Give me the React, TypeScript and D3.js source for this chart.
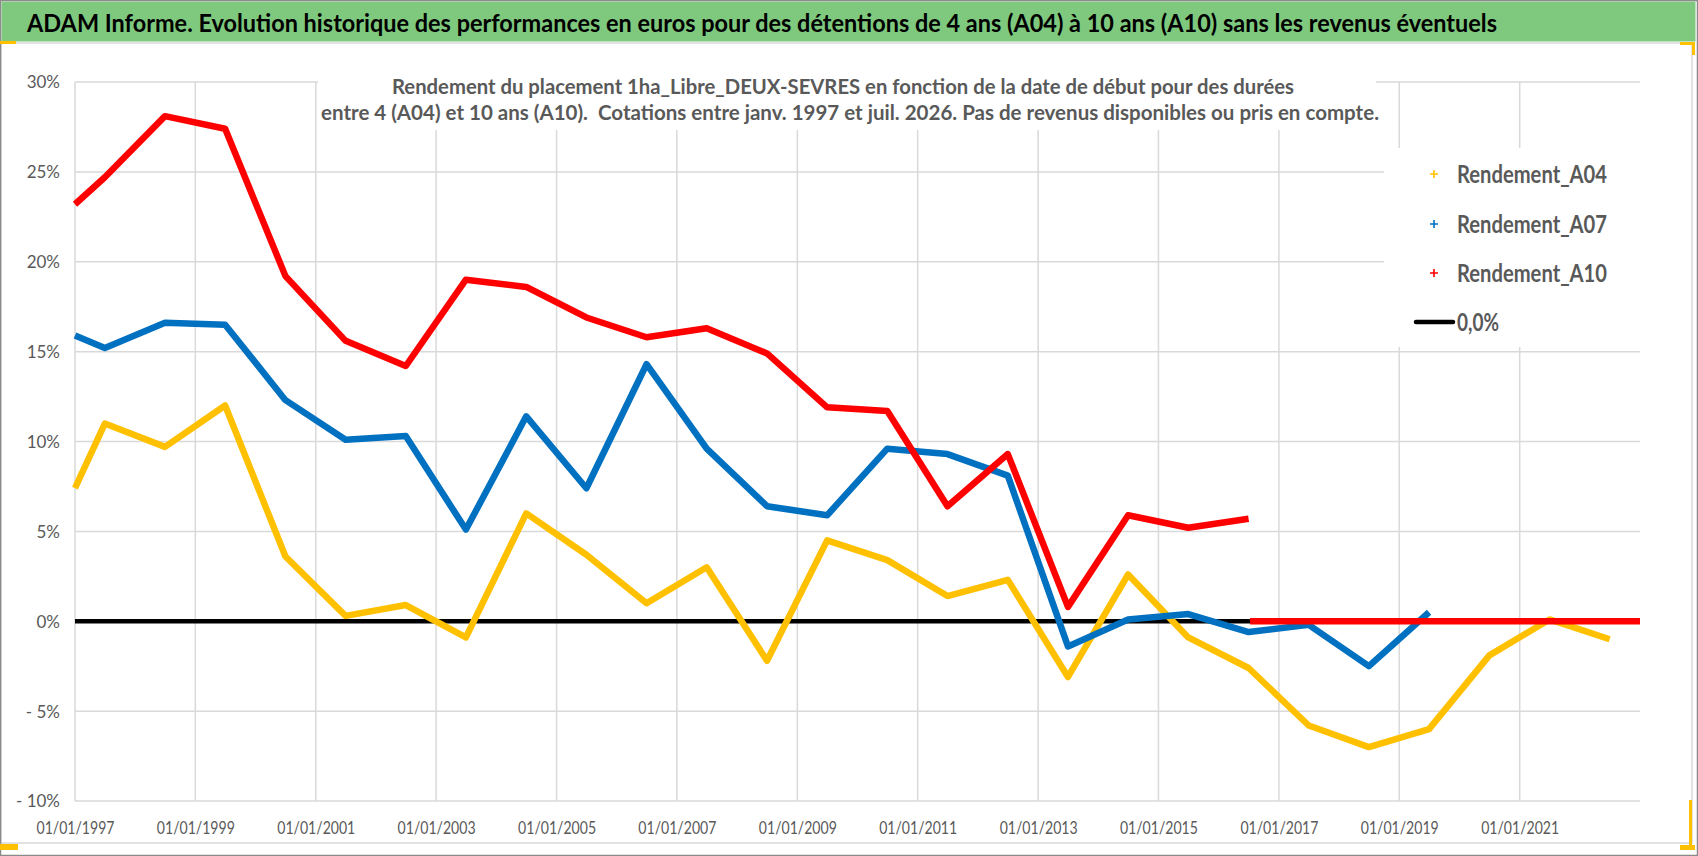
import { useEffect, useRef } from 'react';
import * as d3 from 'd3';

// start dates of the holding periods (one point per July)
const startDates = [
  '1997-01-01', '1997-07-01', '1998-07-01', '1999-07-01', '2000-07-01', '2001-07-01',
  '2002-07-01', '2003-07-01', '2004-07-01', '2005-07-01', '2006-07-01', '2007-07-01',
  '2008-07-01', '2009-07-01', '2010-07-01', '2011-07-01', '2012-07-01', '2013-07-01',
  '2014-07-01', '2015-07-01', '2016-07-01', '2017-07-01', '2018-07-01', '2019-07-01',
  '2020-07-01', '2021-07-01', '2022-07-01',
];

// yields in %
const rendementA04 = [
  7.4, 11.0, 9.7, 12.0, 3.6, 0.3, 0.9, -0.9, 6.0, 3.7, 1.0, 3.0, -2.2, 4.5,
  3.4, 1.4, 2.3, -3.1, 2.6, -0.9, -2.6, -5.8, -7.0, -6.0, -1.9, 0.1, -1.0,
];
const rendementA07 = [
  15.9, 15.2, 16.6, 16.5, 12.3, 10.1, 10.3, 5.1, 11.4, 7.4, 14.3, 9.6, 6.4, 5.9,
  9.6, 9.3, 8.1, -1.4, 0.1, 0.4, -0.6, -0.2, -2.5, 0.5,
];
const rendementA10 = [
  23.2, 24.7, 28.1, 27.4, 19.2, 15.6, 14.2, 19.0, 18.6, 16.9, 15.8, 16.3, 14.9, 11.9,
  11.7, 6.4, 9.3, 0.8, 5.9, 5.2, 5.7,
];
// A10 has no data after mid-2016: plotted at 0
const a10TailDates = ['2016-07-10', '2023-01-01'];
const a10TailValues = [0, 0];

const zeroLineDates = ['1997-01-01', '2023-01-01'];

const xDomain = ['1997-01-01', '2023-01-01'];
const xTickDates = [
  '1997-01-01', '1999-01-01', '2001-01-01', '2003-01-01', '2005-01-01', '2007-01-01',
  '2009-01-01', '2011-01-01', '2013-01-01', '2015-01-01', '2017-01-01', '2019-01-01',
  '2021-01-01',
];
const yTicks = [-10, -5, 0, 5, 10, 15, 20, 25, 30];
const yTickLabels = ['- 10%', '- 5%', '0%', '5%', '10%', '15%', '20%', '25%', '30%'];

const legendLabels = ['Rendement_A04', 'Rendement_A07', 'Rendement_A10', '0,0%'];
const seriesColors = ['#FFC000', '#0070C0', '#FF0000', '#000000'];

const mainTitle =
  'ADAM Informe. Evolution historique des performances en euros pour des détentions de 4 ans (A04) à 10 ans (A10) sans les revenus éventuels';
const subTitle1 =
  'Rendement du placement 1ha_Libre_DEUX-SEVRES en fonction de la date de début pour des durées';
const subTitle2 =
  'entre 4 (A04) et 10 ans (A10).  Cotations entre janv. 1997 et juil. 2026. Pas de revenus disponibles ou pris en compte.';

type Pt = { date: Date; value: number };

export default function App() {
  const svgRef = useRef<SVGSVGElement>(null);
  const width = 1698;
  const height = 856;

  useEffect(() => {
    if (!svgRef.current) return;
    const parse = d3.timeParse('%Y-%m-%d');
    const svg = d3.select(svgRef.current);
    svg.selectAll('*').remove();

    const font = 'Lato, "Open Sans", sans-serif';
    const textGray = '#595959';
    const gridGray = '#d9d9d9';

    const plot = { left: 75, right: 1640, top: 82, bottom: 801 };

    const xScale = d3.scaleTime()
      .domain(xDomain.map(d => parse(d) as Date))
      .range([plot.left, plot.right]);

    const yScale = d3.scaleLinear()
      .domain([-10, 30])
      .range([plot.bottom, plot.top]);

    // background and frames
    svg.append('rect').attr('width', width).attr('height', height).attr('fill', '#fff');
    svg.append('rect')
      .attr('x', 1).attr('y', 43).attr('width', 1691).attr('height', 800)
      .attr('fill', '#fff').attr('stroke', gridGray).attr('stroke-width', 1.5);
    svg.append('rect')
      .attr('x', 1.5).attr('y', 1.5).attr('width', 1694).attr('height', 40)
      .attr('fill', '#7ec97e');
    svg.append('rect')
      .attr('x', 0.5).attr('y', 0.5).attr('width', width - 1).attr('height', height - 1)
      .attr('fill', 'none').attr('stroke', '#8a8a8a').attr('stroke-width', 1.5);

    // little yellow selection handles
    const handles = [
      [0, 41, 16, 3], [1680, 42, 15, 3], [1692, 42, 3, 13],
      [0, 844, 18, 6], [1689, 800, 3, 50], [1680, 845, 15, 5],
    ];
    svg.append('g').selectAll('rect').data(handles).enter().append('rect')
      .attr('x', d => d[0]).attr('y', d => d[1]).attr('width', d => d[2]).attr('height', d => d[3])
      .attr('fill', '#FFC000');

    svg.append('text')
      .attr('x', 27).attr('y', 32)
      .attr('font-family', font).attr('font-weight', 700).attr('font-size', '25px')
      .attr('fill', '#000')
      .attr('textLength', 1470).attr('lengthAdjust', 'spacingAndGlyphs')
      .text(mainTitle);

    const g = svg.append('g');

    // gridlines
    g.selectAll('.hgrid')
      .data(yTicks)
      .enter()
      .append('line')
      .attr('class', 'hgrid')
      .attr('x1', plot.left).attr('x2', plot.right)
      .attr('y1', d => yScale(d)).attr('y2', d => yScale(d))
      .attr('stroke', gridGray).attr('stroke-width', 1.5);

    g.selectAll('.vgrid')
      .data(xTickDates)
      .enter()
      .append('line')
      .attr('class', 'vgrid')
      .attr('x1', d => xScale(parse(d) as Date)).attr('x2', d => xScale(parse(d) as Date))
      .attr('y1', plot.top).attr('y2', plot.bottom)
      .attr('stroke', gridGray).attr('stroke-width', 1.5);

    // boxes of the inner title and of the legend
    g.append('rect').attr('x', 318).attr('y', 60).attr('width', 1058).attr('height', 70).attr('fill', '#fff');
    g.append('rect').attr('x', 1384).attr('y', 148).attr('width', 256).attr('height', 199).attr('fill', '#fff');

    g.append('text')
      .attr('x', 392).attr('y', 94)
      .attr('font-family', font).attr('font-weight', 700).attr('font-size', '21px')
      .attr('fill', textGray)
      .attr('textLength', 902).attr('lengthAdjust', 'spacingAndGlyphs')
      .text(subTitle1);
    g.append('text')
      .attr('x', 321).attr('y', 120)
      .attr('font-family', font).attr('font-weight', 700).attr('font-size', '21px')
      .attr('fill', textGray)
      .attr('xml:space', 'preserve')
      .attr('textLength', 1058).attr('lengthAdjust', 'spacingAndGlyphs')
      .text(subTitle2);

    // axes
    const xAxis = d3.axisBottom(xScale)
      .tickValues(xTickDates.map(d => parse(d) as Date))
      .tickSize(0)
      .tickPadding(0)
      .tickFormat(d => d3.timeFormat('%d/%m/%Y')(d as Date));

    const xg = g.append('g')
      .attr('transform', `translate(0,${plot.bottom})`)
      .call(xAxis);
    xg.select('.domain').remove();
    xg.selectAll('text')
      .attr('y', 33)
      .attr('dy', 0)
      .attr('fill', textGray)
      .attr('font-family', font)
      .attr('font-size', '18px')
      .attr('textLength', 78)
      .attr('lengthAdjust', 'spacingAndGlyphs');

    const yAxis = d3.axisLeft(yScale)
      .tickValues(yTicks)
      .tickSize(0)
      .tickPadding(0)
      .tickFormat((_d, i) => yTickLabels[i]);

    const yg = g.append('g')
      .attr('transform', `translate(60,0)`)
      .call(yAxis);
    yg.select('.domain').remove();
    yg.selectAll('text')
      .attr('x', 0)
      .attr('dy', '0.35em')
      .attr('fill', textGray)
      .attr('font-family', font)
      .attr('font-size', '17px');

    // series
    const toPts = (dates: string[], vals: number[]): Pt[] =>
      vals.map((v, i) => ({ date: parse(dates[i]) as Date, value: v }));

    const line = d3.line<Pt>()
      .x(d => xScale(d.date))
      .y(d => yScale(d.value));

    g.append('path')
      .datum(toPts(zeroLineDates, [0, 0]))
      .attr('fill', 'none')
      .attr('stroke', seriesColors[3])
      .attr('stroke-width', 4.5)
      .attr('d', line);

    const series = [
      { pts: toPts(startDates, rendementA04), color: seriesColors[0] },
      { pts: toPts(startDates, rendementA07), color: seriesColors[1] },
      { pts: toPts(startDates, rendementA10), color: seriesColors[2] },
      { pts: toPts(a10TailDates, a10TailValues), color: seriesColors[2] },
    ];

    series.forEach(s => {
      g.append('path')
        .datum(s.pts)
        .attr('fill', 'none')
        .attr('stroke', s.color)
        .attr('stroke-width', 6.5)
        .attr('stroke-linejoin', 'round')
        .attr('d', line);
    });

    // legend
    const legendY = [174, 224, 273, 322];
    const lg = g.append('g');
    legendLabels.forEach((label, i) => {
      if (i < 3) {
        lg.append('path')
          .attr('d', `M${1430},${legendY[i]}h8M${1434},${legendY[i] - 4}v8`)
          .attr('stroke', seriesColors[i])
          .attr('stroke-width', 1.6);
      } else {
        lg.append('line')
          .attr('x1', 1416).attr('x2', 1453)
          .attr('y1', legendY[i]).attr('y2', legendY[i])
          .attr('stroke', seriesColors[i]).attr('stroke-width', 4.5)
          .attr('stroke-linecap', 'round');
      }
      const t = lg.append('text')
        .attr('x', 1457).attr('y', legendY[i] + 9)
        .attr('font-family', font).attr('font-weight', 700).attr('font-size', '24px')
        .attr('fill', textGray)
        .text(label);
      if (i < 3) t.attr('textLength', 150).attr('lengthAdjust', 'spacingAndGlyphs');
      else t.attr('textLength', 42).attr('lengthAdjust', 'spacingAndGlyphs');
    });
  }, []);

  return (
    <svg
      ref={svgRef}
      width={width}
      height={height}
      style={{ position: 'absolute', left: 0, top: 0, display: 'block' }}
    />
  );
}
